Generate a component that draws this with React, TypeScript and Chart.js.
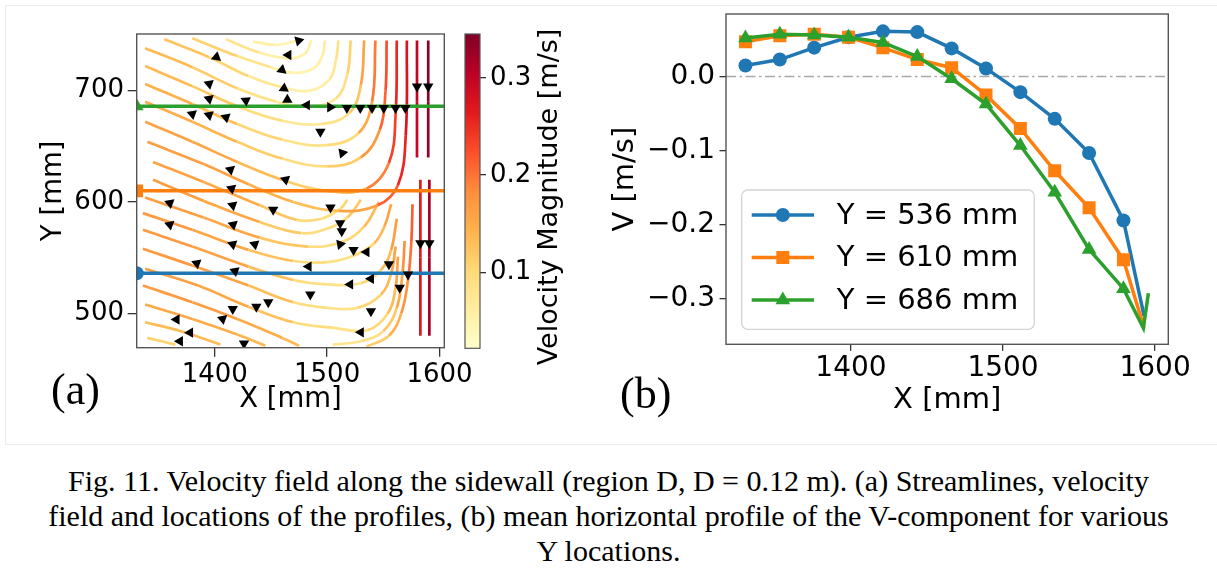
import React, { useEffect, useRef } from "react";
import { Chart, registerables } from "chart.js";
Chart.register(...registerables);

// ---------------- data: panel (b) ----------------
const PROFILE_X = [1330.6, 1353.2, 1375.8, 1398.4, 1421.0, 1443.6, 1466.2, 1488.8, 1511.4, 1534.0, 1556.6, 1579.2];
const V_536 = [0.015, 0.023, 0.039, 0.053, 0.061, 0.060, 0.038, 0.011, -0.021, -0.057, -0.103, -0.194];
const V_610 = [0.047, 0.055, 0.057, 0.053, 0.039, 0.023, 0.012, -0.025, -0.070, -0.127, -0.177, -0.247];
const V_686 = [0.052, 0.057, 0.056, 0.053, 0.046, 0.027, -0.003, -0.037, -0.093, -0.156, -0.233, -0.286];
// unmarked points right at the wall
const WALL_536 = [[1592.8, -0.323]];
const WALL_610 = [[1592.8, -0.339]];
const WALL_686 = [[1592.3, -0.339], [1595.6, -0.292]];
const SERIES_LABELS = ["Y = 536 mm", "Y = 610 mm", "Y = 686 mm"];
const SERIES_COLORS = ["#1f77b4", "#ff7f0e", "#2ca02c"];
const V_TICKS = [-0.3, -0.2, -0.1, 0.0];
const XB_TICKS = [1400, 1500, 1600];

// ---------------- data: panel (a) ----------------
const PROFILE_Y = [536, 610, 686];
const XA_TICKS = [1400, 1500, 1600];
const YA_TICKS = [500, 600, 700];
const CB_TICKS = [0.1, 0.2, 0.3];
const CB_MIN = 0.022;
const CB_MAX = 0.345;

// streamlines: [X mm, Y mm, speed m/s]
const STREAMLINES: number[][][] = [
  [[1434, 744, .06], [1455, 741, .05], [1474, 745, .05]],
  [[1410, 746, .1], [1440, 734, .06], [1465, 729, .05], [1480, 733, .05], [1486, 745, .06]],
  [[1380, 747, .12], [1420, 731, .1], [1450, 721, .06], [1470, 716, .05], [1488, 720, .05], [1496, 732, .06], [1498, 745, .07]],
  [[1355, 746, .13], [1395, 730, .12], [1430, 713, .09], [1460, 703, .06], [1485, 700, .05], [1502, 710, .07], [1508, 728, .08], [1510, 745, .09]],
  [[1338, 738, .14], [1380, 721, .13], [1420, 702, .1], [1455, 690, .07], [1485, 686, .06], [1508, 693, .08], [1518, 715, .1], [1521, 745, .12]],
  [[1338, 722, .14], [1380, 704, .13], [1420, 686, .11], [1460, 673, .08], [1495, 670, .07], [1520, 680, .1], [1530, 705, .15], [1533, 745, .17]],
  [[1338, 706, .15], [1380, 688, .14], [1420, 670, .12], [1460, 656, .09], [1500, 651, .08], [1528, 662, .12], [1540, 690, .19], [1543, 745, .2]],
  [[1338, 690, .15], [1380, 672, .15], [1420, 654, .13], [1460, 639, .1], [1500, 632, .09], [1530, 640, .14], [1547, 665, .2], [1552, 700, .22], [1553, 745, .23]],
  [[1338, 672, .16], [1380, 654, .16], [1420, 636, .15], [1460, 620, .12], [1500, 610, .11], [1535, 612, .16], [1555, 635, .22], [1561, 680, .25], [1562, 745, .26]],
  [[1340, 654, .165], [1390, 634, .165], [1430, 616, .155], [1470, 600, .13], [1510, 592, .13], [1545, 597, .19], [1563, 615, .24], [1570, 660, .27], [1571, 745, .28]],
  [[1580, 640, .29], [1580, 690, .3], [1580, 745, .3]],
  [[1590, 640, .33], [1590, 690, .33], [1590, 745, .34]],
  [[1583, 620, .26], [1583, 550, .27], [1583, 480, .27]],
  [[1591, 620, .31], [1591, 550, .32], [1591, 480, .32]],
  [[1345, 636, .16], [1390, 618, .16], [1440, 597, .14], [1473, 584, .11], [1495, 585, .09], [1512, 594, .1], [1518, 602, .11]],
  [[1345, 620, .165], [1390, 601, .165], [1440, 582, .14], [1477, 572, .1], [1500, 576, .09], [1518, 586, .11], [1530, 602, .13]],
  [[1338, 604, .165], [1390, 586, .165], [1440, 568, .145], [1483, 560, .1], [1513, 564, .09], [1533, 578, .12], [1546, 600, .15]],
  [[1336, 590, .17], [1380, 575, .17], [1430, 557, .145], [1470, 547, .11], [1500, 546, .08], [1524, 552, .09], [1542, 563, .12], [1551, 578, .15], [1557, 598, .17]],
  [[1336, 575, .17], [1380, 560, .17], [1430, 542, .15], [1470, 530, .11], [1500, 526, .08], [1530, 527, .09], [1548, 539, .12], [1557, 557, .15], [1562, 585, .18]],
  [[1336, 558, .17], [1380, 543, .17], [1430, 525, .15], [1470, 510, .11], [1500, 505, .08], [1527, 505, .09], [1548, 517, .12], [1557, 536, .15], [1561, 560, .17]],
  [[1338, 540, .165], [1385, 525, .165], [1430, 506, .145], [1470, 492, .11], [1506, 487, .08], [1536, 485, .09], [1554, 500, .12], [1561, 524, .15], [1563, 551, .17]],
  [[1505, 472, .08], [1530, 475, .08], [1550, 484, .1], [1562, 505, .14], [1567, 535, .17], [1569, 565, .19]],
  [[1535, 470, .1], [1555, 480, .13], [1566, 500, .16], [1572, 530, .19], [1575, 565, .21], [1576, 598, .22]],
  [[1336, 525, .165], [1380, 510, .17], [1420, 495, .16], [1460, 478, .14], [1475, 471, .13]],
  [[1338, 508, .15], [1380, 495, .155], [1420, 481, .145], [1445, 471, .13]],
  [[1338, 492, .13], [1370, 484, .135], [1405, 472, .13]],
  [[1340, 478, .11], [1365, 472, .11]],
];

// arrow heads: [X mm, Y mm, rotation deg]
const ARROWS: number[][] = [
  [1474.6, 744.8, 75], [1401.5, 730, 250], [1465.5, 732, 270], [1459.8, 718.5, 250], [1461.6, 702, 245], [1464.6, 691.7, 240],
  [1395, 706, 290], [1395, 692.6, 290], [1427.7, 691, 295], [1482, 687, 270], [1502.7, 685, 90],
  [1517.6, 684.3, 180], [1529.5, 684.3, 180], [1540, 684.3, 180], [1550.4, 684.3, 180], [1560.9, 684.3, 180], [1569.6, 684.3, 180],
  [1580, 703.6, 180], [1590, 703.6, 180],
  [1380, 679, 290], [1395, 678, 290], [1410, 676, 290], [1494, 663, 300], [1513.5, 644, 200],
  [1414, 629, 290], [1463, 620, 290], [1415, 612, 290],
  [1360, 599, 290], [1416, 597, 290], [1452, 593, 300], [1503, 595, 60],
  [1360, 579.6, 290], [1416.4, 579.6, 290], [1511.6, 581, 60], [1513, 573.7, 60],
  [1416, 562, 290], [1435.6, 562, 290], [1511.6, 562, 80], [1523.5, 557, 60], [1535, 555, 30],
  [1384, 545, 290], [1418, 538, 290], [1483.5, 542, 270], [1555, 544, 180],
  [1539, 531, 30], [1572, 535, 180], [1564.6, 523, 180], [1520.5, 526, 270],
  [1485, 517, 300], [1447.6, 510, 300], [1437, 506, 300], [1416, 504, 300], [1539, 502, 60],
  [1407, 495, 290], [1366, 494.5, 270], [1378, 482.7, 270], [1530, 483, 270], [1369, 475, 270], [1426, 473, 180],
  [1583, 563, 180], [1591, 563, 180],
];

// ---------------- helpers ----------------
const YLORRD = ["#ffffcc", "#ffeda0", "#fed976", "#feb24c", "#fd8d3c", "#fc4e2a", "#e31a1c", "#bd0026", "#800026"];
function hexToRgb(h: string) {
  return [parseInt(h.slice(1, 3), 16), parseInt(h.slice(3, 5), 16), parseInt(h.slice(5, 7), 16)];
}
function cmap(v: number) {
  let t = (v - CB_MIN) / (CB_MAX - CB_MIN);
  t = Math.max(0, Math.min(1, t));
  const f = t * (YLORRD.length - 1);
  const i = Math.min(YLORRD.length - 2, Math.floor(f));
  const r = f - i;
  const a = hexToRgb(YLORRD[i]);
  const b = hexToRgb(YLORRD[i + 1]);
  const c = a.map((x, k) => Math.round(x + (b[k] - x) * r));
  return `rgb(${c[0]},${c[1]},${c[2]})`;
}
const fmtMinus = (v: number, d: number) => (v < 0 ? "\u2212" + Math.abs(v).toFixed(d) : v.toFixed(d));

function framePlugin(color: string, width: number) {
  return {
    id: "frame",
    afterDatasetsDraw(chart: any) {
      const { ctx, chartArea } = chart;
      const { left, top, right, bottom } = chartArea;
      ctx.save();
      ctx.strokeStyle = color;
      ctx.lineWidth = width;
      ctx.strokeRect(left, top, right - left, bottom - top);
      ctx.restore();
    },
  };
}
const fixW = (w: number) => (s: any) => { s.width = w; s.paddingTop = 0; s.paddingBottom = 0; s.paddingLeft = 0; s.paddingRight = 0; };
const fixH = (h: number) => (s: any) => { s.height = h; s.paddingTop = 0; s.paddingBottom = 0; s.paddingLeft = 0; s.paddingRight = 0; };

const FONT = "'DejaVu Sans', sans-serif";

export default function App() {
  const leftRef = useRef<HTMLCanvasElement>(null);
  const cbRef = useRef<HTMLCanvasElement>(null);
  const rightRef = useRef<HTMLCanvasElement>(null);

  useEffect(() => {
    Chart.defaults.font.family = FONT;
    Chart.defaults.color = "#000";
    const charts: Chart[] = [];

    // ---------- panel (a) ----------
    const streamSets = STREAMLINES.map((line) => {
      const pts = line.map(([x, y, v]) => ({ x, y, v }));
      return {
        data: pts,
        showLine: true,
        tension: 0.4,
        borderWidth: 2.7,
        borderColor: cmap(pts[0].v),
        borderCapStyle: "butt",
        pointRadius: 0,
        pointHoverRadius: 0,
        segment: {
          borderColor: (c: any) => cmap((pts[c.p0DataIndex].v + pts[c.p1DataIndex].v) / 2),
        },
        order: 3,
      };
    });
    const markerStyles = ["circle", "rect", "triangle"];
    const markerR = [7, 9, 8];
    const profileSets = PROFILE_Y.map((y, i) => ({
      data: [{ x: 1330.5, y }, { x: 1604.3, y }],
      showLine: true,
      borderColor: SERIES_COLORS[i],
      backgroundColor: SERIES_COLORS[i],
      borderWidth: 3.5,
      pointStyle: markerStyles[i],
      pointRadius: [markerR[i], 0],
      pointBorderWidth: 0,
      order: 2,
    }));
    const arrowSet = {
      data: ARROWS.map(([x, y]) => ({ x, y })),
      showLine: false,
      pointStyle: "triangle",
      pointRotation: ARROWS.map((a) => a[2]),
      pointRadius: 6,
      pointBorderWidth: 0,
      backgroundColor: "#000",
      borderColor: "#000",
      order: 0,
    };

    charts.push(
      new Chart(leftRef.current!, {
        type: "scatter",
        data: { datasets: [arrowSet, ...profileSets, ...streamSets] as any },
        options: {
          animation: false,
          responsive: false,
          devicePixelRatio: 1,
          events: [],
          layout: { padding: { left: 0, top: 34, right: 35.7, bottom: 0 } },
          plugins: { legend: { display: false }, tooltip: { enabled: false } },
          scales: {
            x: {
              type: "linear",
              min: 1330.5,
              max: 1604.3,
              afterBuildTicks: (s: any) => { s.ticks = XA_TICKS.map((v) => ({ value: v })); },
              afterFit: fixH(92.3),
              ticks: { font: { size: 26 }, color: "#000", padding: 2.7, maxRotation: 0, autoSkip: false, callback: (v: any) => String(v) },
              grid: { display: true, drawOnChartArea: false, drawTicks: true, tickLength: 9, color: "#333", lineWidth: 1.3 },
              border: { display: false },
              title: { display: true, text: "X [mm]", font: { size: 27.5 }, color: "#000", padding: { top: 0, bottom: 23.5 } },
            },
            y: {
              type: "linear",
              min: 469.2,
              max: 750.8,
              afterBuildTicks: (s: any) => { s.ticks = YA_TICKS.map((v) => ({ value: v })); },
              afterFit: fixW(136.7),
              ticks: { font: { size: 26 }, color: "#000", padding: 3.7, autoSkip: false, callback: (v: any) => String(v) },
              grid: { display: true, drawOnChartArea: false, drawTicks: true, tickLength: 9, color: "#333", lineWidth: 1.3 },
              border: { display: false },
              title: { display: true, text: "Y [mm]", font: { size: 27.5 }, color: "#000", padding: { top: 37.5, bottom: 0 } },
            },
          },
        } as any,
        plugins: [framePlugin("#555", 1.4)],
      })
    );

    // ---------- colorbar ----------
    charts.push(
      new Chart(cbRef.current!, {
        type: "bar",
        data: {
          labels: ["v"],
          datasets: [
            {
              data: [[CB_MIN, CB_MAX]] as any,
              barPercentage: 1,
              categoryPercentage: 1,
              borderWidth: 0,
              backgroundColor: (c: any) => {
                const ch = c.chart;
                if (!ch.chartArea) return "transparent";
                const y = ch.scales.y;
                const g = ch.ctx.createLinearGradient(0, y.getPixelForValue(CB_MIN), 0, y.getPixelForValue(CB_MAX));
                YLORRD.forEach((col, i) => g.addColorStop(i / (YLORRD.length - 1), col));
                return g;
              },
            },
          ],
        },
        options: {
          animation: false,
          responsive: false,
          devicePixelRatio: 1,
          events: [],
          layout: { padding: { left: 25, top: 34, right: 0, bottom: 91.7 } },
          plugins: { legend: { display: false }, tooltip: { enabled: false } },
          scales: {
            x: { display: false },
            y: {
              type: "linear",
              position: "right",
              min: CB_MIN,
              max: CB_MAX,
              afterBuildTicks: (s: any) => { s.ticks = CB_TICKS.map((v) => ({ value: v })); },
              afterFit: fixW(120),
              ticks: { font: { size: 26 }, color: "#000", padding: 4, autoSkip: false, callback: (v: any) => Number(v).toFixed(1) },
              grid: { display: true, drawOnChartArea: false, drawTicks: true, tickLength: 6, color: "#333", lineWidth: 1.3 },
              border: { display: false },
            },
          },
        } as any,
        plugins: [
          framePlugin("#555", 1.2),
          {
            id: "cbLabel",
            afterDraw(chart: any) {
              const { ctx } = chart;
              ctx.save();
              ctx.translate(110, 197);
              ctx.rotate(-Math.PI / 2);
              ctx.font = `27px ${FONT}`;
              ctx.fillStyle = "#000";
              ctx.textAlign = "center";
              ctx.textBaseline = "middle";
              ctx.fillText("Velocity Magnitude [m/s]", 0, 0);
              ctx.restore();
            },
          },
        ],
      })
    );

    // ---------- panel (b) ----------
    const build = (vals: number[], wall: number[][]) => [
      ...PROFILE_X.map((x, i) => ({ x, y: vals[i] })),
      ...wall.map(([x, y]) => ({ x, y })),
    ];
    const radii = (n: number, r: number, wall: number[][]) => [...Array(n).fill(r), ...wall.map(() => 0)];
    const seriesData = [build(V_536, WALL_536), build(V_610, WALL_610), build(V_686, WALL_686)];
    const walls = [WALL_536, WALL_610, WALL_686];
    const rMarks = [7, 9.2, 8.5];
    const profileB = [2, 1, 0].map((i) => ({
      label: SERIES_LABELS[i],
      data: seriesData[i],
      showLine: true,
      borderColor: SERIES_COLORS[i],
      backgroundColor: SERIES_COLORS[i],
      borderWidth: 3.5,
      pointStyle: markerStyles[i],
      pointRadius: radii(PROFILE_X.length, rMarks[i], walls[i]),
      pointBorderWidth: 0,
      order: 2 - i,
    }));
    const zeroLine = {
      data: [{ x: 1317.8, y: 0 }, { x: 1608.7, y: 0 }],
      showLine: true,
      borderColor: "#a8a8a8",
      borderWidth: 1.5,
      borderDash: [10, 3.5, 2.5, 3.5],
      pointRadius: 0,
      order: 5,
    };

    const legendPlugin = {
      id: "customLegend",
      afterDraw(chart: any) {
        const { ctx } = chart;
        ctx.save();
        const bx = 181.7, by = 190, bw = 292.6, bh = 139.3, r = 6;
        ctx.beginPath();
        ctx.moveTo(bx + r, by);
        ctx.arcTo(bx + bw, by, bx + bw, by + bh, r);
        ctx.arcTo(bx + bw, by + bh, bx, by + bh, r);
        ctx.arcTo(bx, by + bh, bx, by, r);
        ctx.arcTo(bx, by, bx + bw, by, r);
        ctx.closePath();
        ctx.fillStyle = "rgba(255,255,255,0.8)";
        ctx.fill();
        ctx.strokeStyle = "#d4d4d4";
        ctx.lineWidth = 1.3;
        ctx.stroke();
        const rows = [215, 257.5, 300];
        SERIES_LABELS.forEach((lab, i) => {
          const y = rows[i];
          ctx.strokeStyle = SERIES_COLORS[i];
          ctx.fillStyle = SERIES_COLORS[i];
          ctx.lineWidth = 3.5;
          ctx.beginPath();
          ctx.moveTo(191.7, y);
          ctx.lineTo(254, y);
          ctx.stroke();
          const mx = 222.8;
          ctx.beginPath();
          if (i === 0) {
            ctx.arc(mx, y, 7, 0, Math.PI * 2);
          } else if (i === 1) {
            ctx.rect(mx - 6.5, y - 6.5, 13, 13);
          } else {
            const rr = 8.5;
            ctx.moveTo(mx, y - rr);
            ctx.lineTo(mx + rr * 0.866, y + rr * 0.5);
            ctx.lineTo(mx - rr * 0.866, y + rr * 0.5);
            ctx.closePath();
          }
          ctx.fill();
          ctx.fillStyle = "#000";
          ctx.font = `29px ${FONT}`;
          ctx.textAlign = "left";
          ctx.textBaseline = "middle";
          ctx.fillText(lab, 276.7, y + 1);
        });
        ctx.restore();
      },
    };

    charts.push(
      new Chart(rightRef.current!, {
        type: "scatter",
        data: { datasets: [...profileB, zeroLine] as any },
        options: {
          animation: false,
          responsive: false,
          devicePixelRatio: 1,
          events: [],
          layout: { padding: { left: 0, top: 14, right: 31.7, bottom: 0 } },
          plugins: { legend: { display: false }, tooltip: { enabled: false } },
          scales: {
            x: {
              type: "linear",
              min: 1317.8,
              max: 1608.7,
              afterBuildTicks: (s: any) => { s.ticks = XB_TICKS.map((v) => ({ value: v })); },
              afterFit: fixH(95.7),
              ticks: { font: { size: 28 }, color: "#000", padding: 1, maxRotation: 0, autoSkip: false, callback: (v: any) => String(v) },
              grid: { display: true, drawOnChartArea: false, drawTicks: true, tickLength: 6.5, color: "#333", lineWidth: 1.3 },
              border: { display: false },
              title: { display: true, text: "X [mm]", font: { size: 29 }, color: "#000", padding: { top: 0, bottom: 22.6 } },
            },
            y: {
              type: "linear",
              min: -0.361,
              max: 0.0844,
              afterBuildTicks: (s: any) => { s.ticks = V_TICKS.map((v) => ({ value: v })); },
              afterFit: fixW(166),
              ticks: { font: { size: 28 }, color: "#000", padding: 4.5, autoSkip: false, callback: (v: any) => fmtMinus(Number(v), 1) },
              grid: { display: true, drawOnChartArea: false, drawTicks: true, tickLength: 6.5, color: "#333", lineWidth: 1.3 },
              border: { display: false },
              title: { display: true, text: "V [m/s]", font: { size: 29 }, color: "#000", padding: { top: 47.6, bottom: 0 } },
            },
          },
        } as any,
        plugins: [framePlugin("#555", 1.4), legendPlugin],
      })
    );

    return () => charts.forEach((c) => c.destroy());
  }, []);

  const abs = (l: number, t: number, w: number, h: number): React.CSSProperties => ({
    position: "absolute", left: l, top: t, width: w, height: h,
  });

  return (
    <div style={{ position: "absolute", left: 0, top: 0, width: 1217, height: 581, background: "#fff", overflow: "hidden" }}>
      <div style={{ ...abs(5, 5, 1212, 1), background: "#ececec" }} />
      <div style={{ ...abs(5, 5, 1, 439), background: "#ececec" }} />
      <div style={{ ...abs(5, 444, 1212, 1), background: "#ececec" }} />
      <canvas ref={leftRef} width={480} height={440} style={abs(0, 0, 480, 440)} />
      <canvas ref={cbRef} width={160} height={440} style={abs(440, 0, 160, 440)} />
      <canvas ref={rightRef} width={640} height={440} style={abs(560, 0, 640, 440)} />
      <div style={{ position: "absolute", left: 51, top: 368, fontFamily: "'Liberation Serif', serif", fontSize: 44, lineHeight: "44px", color: "#000" }}>(a)</div>
      <div style={{ position: "absolute", left: 620, top: 372, fontFamily: "'Liberation Serif', serif", fontSize: 44, lineHeight: "44px", color: "#000" }}>(b)</div>
      <div
        style={{
          position: "absolute", left: 0, top: 463, width: 1217, textAlign: "center",
          fontFamily: "'Liberation Serif', serif", fontSize: 30, lineHeight: "35px", color: "#000",
        }}
      >
        Fig. 11. Velocity field along the sidewall (region D, D = 0.12 m). (a) Streamlines, velocity
        <br />
        field and locations of the profiles, (b) mean horizontal profile of the V-component for various
        <br />
        Y locations.
      </div>
    </div>
  );
}
